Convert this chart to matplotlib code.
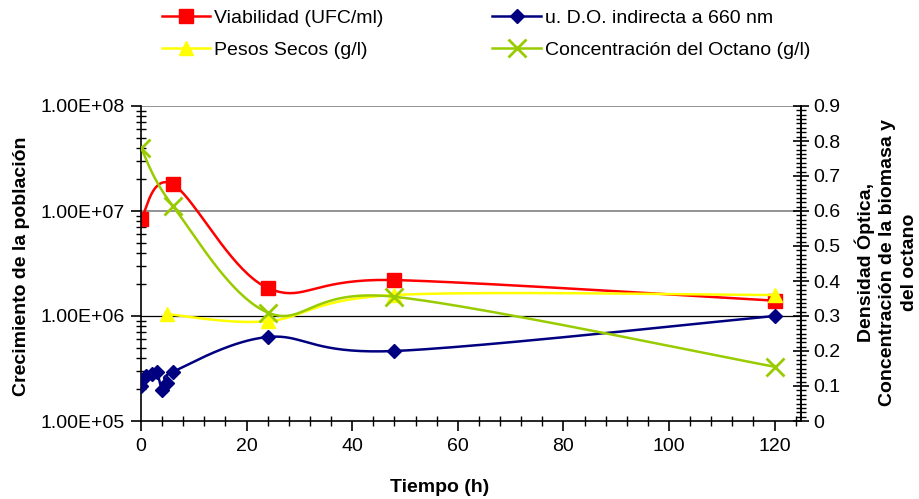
import matplotlib.pyplot as plt
import numpy as np
from matplotlib.ticker import MultipleLocator, LogLocator, NullFormatter, FuncFormatter

plt.rcParams['font.family'] = ['Liberation Sans', 'DejaVu Sans']

# Datos
t_viab = [0, 6, 24, 48, 120]
viabilidad = [8.4e6, 1.8e7, 1.85e6, 2.2e6, 1.4e6]  # UFC/ml

t_do = [0, 1, 2, 3, 4, 5, 6, 24, 48, 120]
do_660 = [0.10, 0.13, 0.135, 0.14, 0.09, 0.11, 0.14, 0.24, 0.20, 0.30]

t_pesos = [5, 24, 48, 120]
pesos = [0.305, 0.285, 0.36, 0.36]  # g/l

t_oct = [0, 6, 24, 48, 120]
octano = [0.78, 0.615, 0.31, 0.355, 0.155]  # g/l

x_ticks = [0, 20, 40, 60, 80, 100, 120]


def smooth(x, y, n=40):
    # linea suavizada tipo Excel (Bezier que pasa por los puntos)
    p = np.column_stack([x, y]).astype(float)
    pad = np.vstack([p[0], p, p[-1]])
    s = np.linspace(0, 1, n)[:, None]
    segs = []
    for i in range(len(p) - 1):
        p0, p1, p2, p3 = pad[i], pad[i + 1], pad[i + 2], pad[i + 3]
        c1 = p1 + (p2 - p0) / 6
        c2 = p2 - (p3 - p1) / 6
        segs.append((1 - s) ** 3 * p1 + 3 * (1 - s) ** 2 * s * c1
                    + 3 * (1 - s) * s ** 2 * c2 + s ** 3 * p2)
    out = np.vstack(segs)
    # indices de los puntos originales dentro de la curva
    idx = [i * n for i in range(len(p) - 1)] + [len(out) - 1]
    return out[:, 0], out[:, 1], idx


fig = plt.figure(figsize=(9.19, 4.99), dpi=100)
ax = fig.add_axes([141 / 919, 1 - 421 / 499, 660 / 919, 315 / 499])
ax2 = ax.twinx()

# eje izquierdo (escala logaritmica)
ax.set_yscale('log')
ax.set_ylim(1e5, 1e8)
ax.set_xlim(0, 125)
ax2.set_ylim(0, 0.9)

# lineas de division
ax.axhline(1e8, color='#808080', linewidth=1.2, zorder=0)
ax.axhline(1e7, color='#808080', linewidth=1.2, zorder=0)
ax.axhline(1e6, color='black', linewidth=0.9, zorder=0)

# Viabilidad (eje izquierdo, suavizado en log)
sx, sy, idx = smooth(t_viab, np.log10(viabilidad))
h_viab, = ax.plot(sx, 10 ** sy, color='#FF0000', linewidth=1.8,
                  marker='s', markersize=9.5, markevery=idx,
                  label='Viabilidad (UFC/ml)')

sx, sy, idx = smooth(t_do, do_660)
h_do, = ax2.plot(sx, sy, color='#000080', linewidth=1.8,
                 marker='D', markersize=7.5, markevery=idx,
                 label='u. D.O. indirecta a 660 nm')

sx, sy, idx = smooth(t_pesos, pesos)
h_pesos, = ax2.plot(sx, sy, color='#FFFF00', linewidth=1.8,
                    marker='^', markersize=10, markevery=idx,
                    label='Pesos Secos (g/l)')

sx, sy, idx = smooth(t_oct, octano)
h_oct, = ax2.plot(sx, sy, color='#99CC00', linewidth=1.8,
                  marker='x', markersize=13, markeredgewidth=2, markevery=idx,
                  label='Concentración del Octano (g/l)')

# ejes y marcas
for a in (ax, ax2):
    a.spines['top'].set_visible(False)
    for sp in a.spines.values():
        sp.set_linewidth(1.2)
ax2.spines['left'].set_visible(False)
ax2.spines['bottom'].set_visible(False)

ax.xaxis.set_major_locator(plt.FixedLocator(x_ticks))
ax.xaxis.set_minor_locator(MultipleLocator(4))
ax.yaxis.set_major_locator(LogLocator(base=10))
ax.yaxis.set_minor_locator(LogLocator(base=10, subs=np.arange(2, 10)))
ax.yaxis.set_minor_formatter(NullFormatter())
ax.yaxis.set_major_formatter(FuncFormatter(lambda v, p: f'{v:.2E}'))

ax2.yaxis.set_major_locator(MultipleLocator(0.1))
ax2.yaxis.set_minor_locator(MultipleLocator(0.0125))
ax2.yaxis.set_major_formatter(FuncFormatter(lambda v, p: '0' if abs(v) < 1e-9 else f'{v:.1f}'))

ax.tick_params(which='major', direction='out', length=7, width=1.2, labelsize=14, pad=5)
ax.tick_params(which='minor', direction='inout', length=7, width=1)
ax2.tick_params(which='major', direction='inout', length=11, width=1.2, labelsize=14, pad=3)
ax2.tick_params(which='minor', direction='inout', length=7, width=1)

# titulos de ejes
fig.text(440 / 919, 1 - 487 / 499, 'Tiempo (h)', ha='center', va='center',
         fontsize=14, fontweight='bold')
fig.text(22 / 919, 1 - 266 / 499, 'Crecimiento de la población', rotation=90,
         ha='center', va='center', fontsize=14, fontweight='bold')
fig.text(886 / 919, 1 - 262 / 499,
         'Densidad Óptica,\nConcentración de la biomasa y\ndel octano',
         rotation=90, ha='center', va='center', multialignment='center',
         fontsize=14, fontweight='bold', linespacing=1.35)

# leyenda
fig.legend(handles=[h_viab, h_pesos, h_do, h_oct], loc='center',
           bbox_to_anchor=(486 / 919, 1 - 34 / 499), ncol=2, frameon=False,
           fontsize=14, handlelength=2.5, handletextpad=0.2,
           columnspacing=5.6, labelspacing=0.75)

fig.savefig('out.png', dpi=100, facecolor='white')
